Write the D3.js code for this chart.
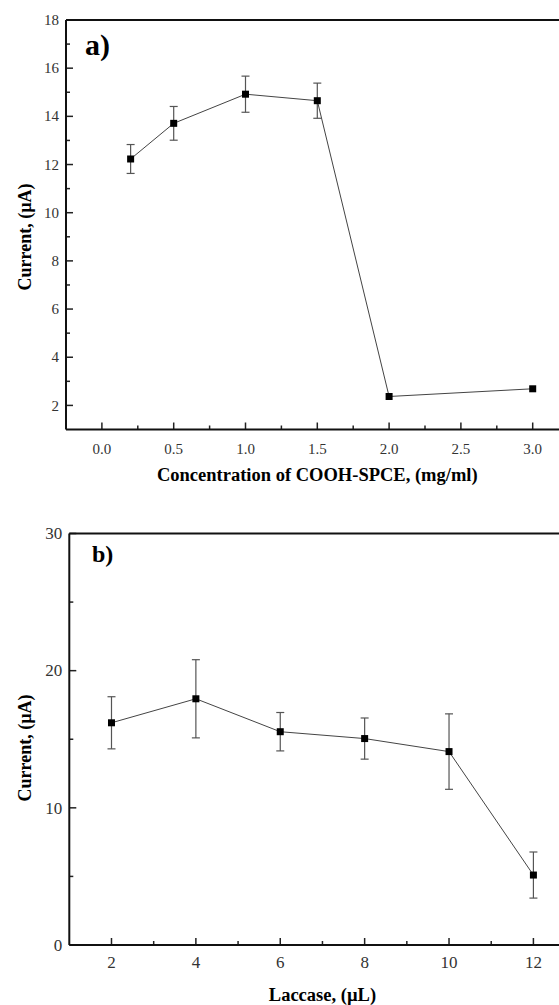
<!DOCTYPE html>
<html><head><meta charset="utf-8">
<script src="https://cdn.jsdelivr.net/npm/d3@7"></script>
<style>body{margin:0;background:#fff}svg{display:block}
svg text{font-family:"Liberation Serif","Times New Roman",Times,serif}</style>
</head><body>
<svg id="c" width="559" height="1005"></svg>
<script>
// Panel a
const concX = [0.2, 0.5, 1.0, 1.5, 2.0, 3.0];
const concY = [12.23, 13.71, 14.92, 14.65, 2.37, 2.69];
const concErr = [0.6, 0.7, 0.75, 0.73, 0, 0];
const concXTicks = [0.0, 0.5, 1.0, 1.5, 2.0, 2.5, 3.0];
const concYTicks = [2, 4, 6, 8, 10, 12, 14, 16, 18];
// Panel b
const lacX = [2, 4, 6, 8, 10, 12];
const lacY = [16.2, 17.95, 15.55, 15.05, 14.1, 5.1];
const lacErr = [1.9, 2.85, 1.4, 1.5, 2.75, 1.68];
const lacXTicks = [2, 4, 6, 8, 10, 12];
const lacYTicks = [0, 10, 20, 30];

const svg = d3.select("#c");

function panel(o) {
  const x = d3.scaleLinear().domain(o.xd).range([o.left, o.right]);
  const y = d3.scaleLinear().domain(o.yd).range([o.bottom, o.top]);
  const g = svg.append("g");
  g.selectAll(".mx").data(o.xMinor).join("line")
    .attr("x1", d => x(d)).attr("x2", d => x(d))
    .attr("y1", o.bottom).attr("y2", o.bottom - 4).attr("stroke", "#222").attr("stroke-width", 1.5);
  g.selectAll(".my").data(o.yMinor).join("line")
    .attr("y1", d => y(d)).attr("y2", d => y(d))
    .attr("x1", o.left).attr("x2", o.left + 4).attr("stroke", "#222").attr("stroke-width", 1.5);
  g.selectAll(".Mx").data(o.xTicks).join("line")
    .attr("x1", d => x(d)).attr("x2", d => x(d))
    .attr("y1", o.bottom).attr("y2", o.bottom - 7).attr("stroke", "#222").attr("stroke-width", 1.5);
  g.selectAll(".My").data(o.yTicks).join("line")
    .attr("y1", d => y(d)).attr("y2", d => y(d))
    .attr("x1", o.left).attr("x2", o.left + 7).attr("stroke", "#222").attr("stroke-width", 1.5);
  g.selectAll(".lx").data(o.xTicks).join("text")
    .attr("x", d => x(d)).attr("y", o.bottom + o.xTickOff).attr("text-anchor", "middle")
    .attr("font-size", o.tickSize).attr("fill", "#333")
    .text(o.xFmt);
  g.selectAll(".ly").data(o.yTicks).join("text")
    .attr("x", o.left - 7).attr("y", d => y(d) + o.tickSize * 0.34).attr("text-anchor", "end")
    .attr("font-size", o.tickSize).attr("fill", "#333")
    .text(d => d);
  g.append("line").attr("x1", o.left).attr("x2", o.right).attr("y1", o.top).attr("y2", o.top)
    .attr("stroke", "#111").attr("stroke-width", 2);
  g.append("line").attr("x1", o.left).attr("x2", o.right).attr("y1", o.bottom).attr("y2", o.bottom)
    .attr("stroke", "#111").attr("stroke-width", 2.2);
  g.append("line").attr("x1", o.left).attr("x2", o.left).attr("y1", o.top).attr("y2", o.bottom)
    .attr("stroke", "#111").attr("stroke-width", 2);
  const data = o.xs.map((d, i) => ({x: d, y: o.ys[i], e: o.es[i]}));
  const eb = g.selectAll(".eb").data(data.filter(d => d.e > 0)).join("g");
  eb.append("line").attr("x1", d => x(d.x)).attr("x2", d => x(d.x))
    .attr("y1", d => y(d.y - d.e)).attr("y2", d => y(d.y + d.e)).attr("stroke", "#555").attr("stroke-width", 1.2);
  eb.append("line").attr("x1", d => x(d.x) - 4).attr("x2", d => x(d.x) + 4)
    .attr("y1", d => y(d.y - d.e)).attr("y2", d => y(d.y - d.e)).attr("stroke", "#555").attr("stroke-width", 1.2);
  eb.append("line").attr("x1", d => x(d.x) - 4).attr("x2", d => x(d.x) + 4)
    .attr("y1", d => y(d.y + d.e)).attr("y2", d => y(d.y + d.e)).attr("stroke", "#555").attr("stroke-width", 1.2);
  g.append("path").datum(data)
    .attr("d", d3.line().x(d => x(d.x)).y(d => y(d.y)))
    .attr("fill", "none").attr("stroke", "#444").attr("stroke-width", 1);
  g.selectAll(".pt").data(data).join("rect")
    .attr("x", d => x(d.x) - 3.5).attr("y", d => y(d.y) - 3.5)
    .attr("width", 7).attr("height", 7).attr("fill", "#000");
  g.append("text").attr("x", o.lab[0]).attr("y", o.lab[1])
    .attr("font-size", o.labSize).attr("font-weight", "bold").text(o.label);
  g.append("text").attr("x", (o.left + o.right) / 2).attr("y", o.xTitleY).attr("text-anchor", "middle")
    .attr("font-size", 18.5).attr("font-weight", "bold").text(o.xLabel);
  g.append("text").attr("transform", `translate(${o.yTitle[0]},${o.yTitle[1]}) rotate(-90)`)
    .attr("text-anchor", "middle")
    .attr("font-size", 18).attr("font-weight", "bold").text(o.yLabel);
}

panel({
  xd: [-0.25, 3.25], yd: [1, 18], left: 66, right: 568.6, top: 20, bottom: 429.5,
  xTicks: concXTicks, yTicks: concYTicks,
  xMinor: [0.25, 0.75, 1.25, 1.75, 2.25, 2.75], yMinor: [3, 5, 7, 9, 11, 13, 15, 17],
  xFmt: d => d.toFixed(1), tickSize: 15, xTickOff: 24,
  xs: concX, ys: concY, es: concErr,
  label: "a)", lab: [85, 55], labSize: 30,
  xLabel: "Concentration of COOH-SPCE, (mg/ml)", xTitleY: 481,
  yLabel: "Current, (\u00b5A)", yTitle: [31, 237]
});

panel({
  xd: [1, 13], yd: [0, 30], left: 69.3, right: 575.6, top: 533.5, bottom: 945,
  xTicks: lacXTicks, yTicks: lacYTicks,
  xMinor: [3, 5, 7, 9, 11], yMinor: [5, 15, 25],
  xFmt: d => d, tickSize: 17, xTickOff: 23,
  xs: lacX, ys: lacY, es: lacErr,
  label: "b)", lab: [92, 562], labSize: 24,
  xLabel: "Laccase, (\u00b5L)", xTitleY: 1001,
  yLabel: "Current, (\u00b5A)", yTitle: [31, 748]
});
</script>
</body></html>
